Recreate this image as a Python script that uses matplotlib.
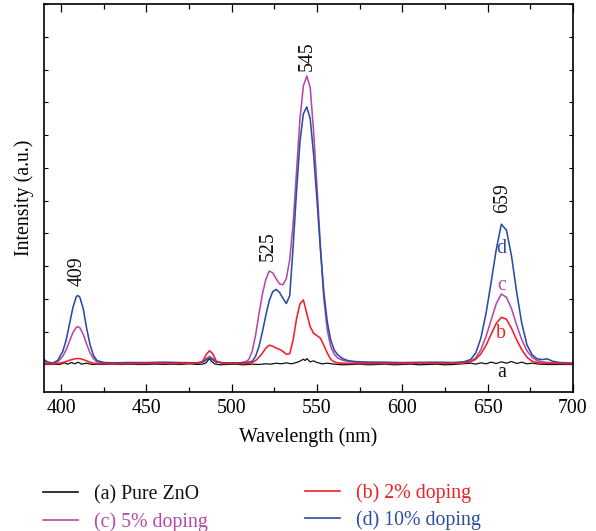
import matplotlib
matplotlib.use("Agg")
import matplotlib.pyplot as plt
from matplotlib.ticker import MultipleLocator

plt.rcParams['font.family'] = ['Liberation Serif', 'DejaVu Serif']

# ---- data ----
wl = [390, 392, 395, 398, 401, 403, 405, 407, 409, 410, 411, 413, 415, 417, 419, 421,
      425, 430, 440, 450, 460, 470, 480, 483, 485, 487, 489, 491, 495, 500, 505, 508,
      510, 512, 514, 516, 518, 520, 522, 524, 526, 528, 530, 532, 534, 536, 538, 540,
      542, 544, 546, 548, 550, 552, 554, 556, 558, 560, 562, 565, 568, 572, 580, 590,
      600, 610, 620, 630, 636, 640, 643, 646, 649, 652, 655, 658, 661, 664, 667, 670,
      673, 676, 679, 682, 685, 688, 692, 700]

int_d = [0.15, 0.08, 0.04, 0.12, 0.40, 0.75, 1.25, 1.75, 2.08, 2.10, 2.05, 1.70, 1.10, 0.60, 0.28, 0.12,
         0.06, 0.05, 0.06, 0.05, 0.06, 0.05, 0.05, 0.07, 0.14, 0.20, 0.14, 0.07, 0.05, 0.05, 0.05, 0.06,
         0.07, 0.10, 0.25, 0.55, 1.00, 1.50, 1.95, 2.22, 2.29, 2.20, 2.02, 1.86, 2.10, 3.60, 5.30, 6.80,
         7.65, 7.86, 7.50, 6.40, 5.00, 3.50, 2.20, 1.30, 0.75, 0.45, 0.30, 0.18, 0.12, 0.09, 0.07, 0.07,
         0.05, 0.06, 0.07, 0.06, 0.08, 0.15, 0.35, 0.80, 1.55, 2.50, 3.50, 4.28, 4.10, 3.30, 2.20, 1.25,
         0.60, 0.30, 0.17, 0.15, 0.17, 0.10, 0.06, 0.04]

int_c = [0.10, 0.05, 0.04, 0.08, 0.25, 0.45, 0.72, 0.98, 1.14, 1.15, 1.12, 0.92, 0.62, 0.35, 0.18, 0.08,
         0.05, 0.05, 0.05, 0.06, 0.07, 0.06, 0.05, 0.08, 0.18, 0.25, 0.18, 0.08, 0.05, 0.05, 0.05, 0.08,
         0.15, 0.40, 0.90, 1.55, 2.15, 2.60, 2.85, 2.80, 2.62, 2.46, 2.43, 2.62, 3.20, 4.30, 5.90, 7.50,
         8.50, 8.80, 8.45, 7.10, 5.40, 3.60, 2.00, 1.05, 0.55, 0.32, 0.20, 0.13, 0.09, 0.07, 0.06, 0.05,
         0.06, 0.06, 0.05, 0.05, 0.06, 0.10, 0.20, 0.45, 0.85, 1.35, 1.85, 2.15, 2.05, 1.70, 1.20, 0.75,
         0.42, 0.22, 0.12, 0.08, 0.06, 0.05, 0.04, 0.03]

int_b = [0.02, 0.02, 0.02, 0.03, 0.06, 0.09, 0.13, 0.16, 0.18, 0.18, 0.18, 0.15, 0.11, 0.07, 0.04, 0.03,
         0.02, 0.02, 0.02, 0.03, 0.03, 0.03, 0.04, 0.10, 0.30, 0.42, 0.32, 0.10, 0.03, 0.03, 0.03, 0.03,
         0.04, 0.06, 0.12, 0.22, 0.35, 0.50, 0.59, 0.56, 0.50, 0.46, 0.40, 0.31, 0.33, 0.75, 1.40, 1.85,
         1.97, 1.55, 1.15, 0.95, 0.88, 0.80, 0.58, 0.35, 0.16, 0.08, 0.05, 0.04, 0.03, 0.03, 0.03, 0.03,
         0.03, 0.04, 0.04, 0.04, 0.05, 0.08, 0.16, 0.32, 0.58, 0.92, 1.25, 1.44, 1.38, 1.10, 0.75, 0.45,
         0.22, 0.10, 0.06, 0.04, 0.04, 0.04, 0.03, 0.03]

wl_a = [390, 393, 396, 399, 402, 404, 406, 408, 410, 412, 415, 418, 421, 425, 430, 435, 440, 445,
        450, 455, 460, 465, 470, 475, 480, 483, 485, 486, 487, 488, 490, 493, 497, 502, 507, 512,
        516, 520, 523, 526, 529, 532, 535, 538, 540, 542, 543, 544, 546, 548, 550, 553, 556, 560,
        565, 570, 575, 580, 585, 590, 595, 600, 605, 610, 615, 620, 625, 630, 635, 640, 643, 646,
        649, 652, 655, 658, 661, 664, 667, 670, 673, 676, 680, 685, 690, 695, 700]
int_a = [0.02, 0.00, 0.01, 0.00, 0.05, 0.01, 0.06, 0.02, 0.07, 0.01, 0.04, 0.00, 0.01, 0.00, 0.01, 0.00, 0.01, 0.00,
         0.00, 0.01, 0.00, 0.01, 0.00, 0.02, 0.00, 0.01, 0.05, 0.12, 0.18, 0.10, 0.02, -0.01, 0.00, 0.01, -0.01, 0.01,
         0.00, 0.02, 0.01, 0.04, 0.02, 0.05, 0.02, 0.06, 0.10, 0.16, 0.12, 0.18, 0.08, 0.11, 0.06, 0.02, 0.04, 0.01,
         -0.01, 0.00, 0.01, -0.01, 0.00, 0.01, -0.01, 0.00, 0.01, -0.01, 0.00, 0.01, -0.01, 0.00, 0.02, 0.04, 0.01, 0.05,
         0.02, 0.07, 0.03, 0.08, 0.04, 0.09, 0.03, 0.07, 0.02, 0.04, 0.01, 0.00, 0.00, 0.00, 0.00]

series_labels = ['(a) Pure ZnO', '(b) 2% doping', '(c) 5% doping', '(d) 10% doping']
series_colors = ['#111111', '#ee2127', '#b44aa8', '#2a4da4']

peak_labels = ['409', '525', '545', '659']
peak_pos = [409.2, 521.3, 544.2, 659.0]
peak_y = [2.40, 3.15, 8.95, 4.62]

curve_letters = ['a', 'b', 'c', 'd']
letter_y = [-0.25, 0.95, 2.42, 3.54]

# ---- figure ----
fig = plt.figure(figsize=(5.96, 5.31), dpi=100)
ax = fig.add_axes([44 / 596, 1 - 392 / 531, (573 - 44) / 596, (392 - 4) / 531])

lw = 1.15
la, = ax.plot(wl_a, int_a, color=series_colors[0], lw=0.9, label=series_labels[0])
lc, = ax.plot(wl, int_c, color=series_colors[2], lw=lw, label=series_labels[2])
ld, = ax.plot(wl, int_d, color=series_colors[3], lw=lw, label=series_labels[3])
lb, = ax.plot(wl, int_b, color=series_colors[1], lw=lw, label=series_labels[1])

fs = 14.3
for t, x, y in zip(peak_labels, peak_pos, peak_y):
    ax.text(x, y, t, rotation=90, ha='center', va='bottom', fontsize=fs, color='#111111')

for t, y, c in zip(curve_letters, letter_y, series_colors):
    ax.text(658, y, t, ha='center', va='center', fontsize=fs, color=c)

ax.set_xlim(390, 700)
ax.set_ylim(-0.84, 11.0)
ax.xaxis.set_major_locator(MultipleLocator(50))
ax.xaxis.set_minor_locator(MultipleLocator(25))
ax.set_yticks(range(0, 12))
ax.set_yticklabels([])
ax.tick_params(axis='x', which='major', direction='in', length=6, width=0.9,
               top=True, labelsize=fs, pad=5)
ax.tick_params(axis='x', which='minor', direction='in', length=3.5, width=0.9, top=True)
ax.tick_params(axis='y', which='major', direction='in', length=3, width=0.8, right=True)
for s in ax.spines.values():
    s.set_linewidth(1.2)

ax.set_xlabel('Wavelength (nm)', fontsize=fs, labelpad=7)
ax.set_ylabel('Intensity (a.u.)', fontsize=fs, labelpad=4)

leg_kw = dict(frameon=False, fontsize=fs, handlelength=1.75, handletextpad=0.8,
              labelspacing=0.4, borderpad=0, borderaxespad=0, loc='upper left')
leg1 = fig.legend(handles=[la, lc], bbox_to_anchor=(43 / 596, 1 - 485 / 531), **leg_kw)
for txt, h in zip(leg1.get_texts(), [la, lc]):
    txt.set_color(h.get_color())
leg2 = fig.legend(handles=[lb, ld], bbox_to_anchor=(305 / 596, 1 - 483 / 531), **leg_kw)
for txt, h in zip(leg2.get_texts(), [lb, ld]):
    txt.set_color(h.get_color())
for lg in (leg1, leg2):
    for line in lg.get_lines():
        line.set_linewidth(1.2)

fig.savefig('out.png', dpi=100)
